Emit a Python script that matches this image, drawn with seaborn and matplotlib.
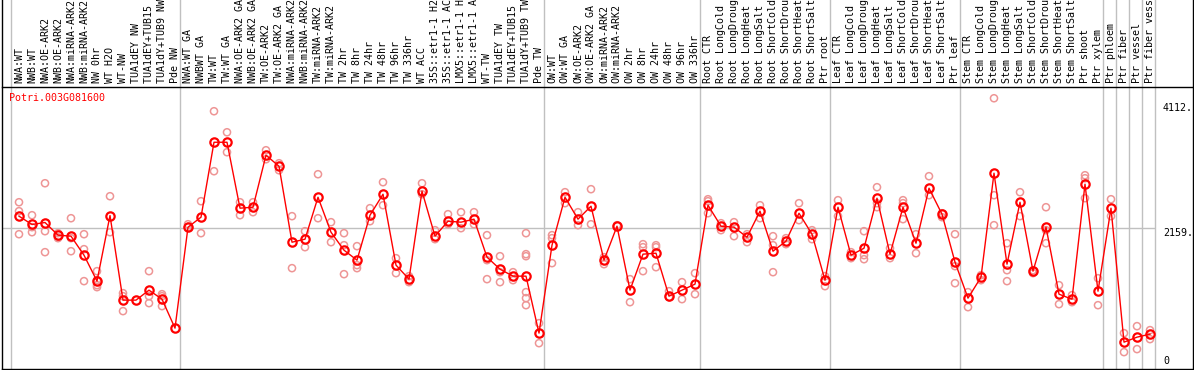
import numpy as np
import pandas as pd
import seaborn as sns
import matplotlib.pyplot as plt
from matplotlib.lines import Line2D

gene = "Potri.003G081600"

samples = [
    "NWA:WT", "NWB:WT", "NWA:OE-ARK2", "NWB:OE-ARK2", "NWA:miRNA-ARK2", "NWB:miRNA-ARK2",
    "NW 0hr", "WT H2O", "WT-NW", "TUA1dEY NW", "TUA1dEY+TUB15 NW", "TUA1dY+TUB9 NW", "Pde NW",
    "NWA:WT GA", "NWBWT GA", "TW:WT", "TW:WT GA", "NWA:OE-ARK2 GA", "NWB:OE-ARK2 GA",
    "TW:OE-ARK2", "TW:OE-ARK2 GA", "NWA:miRNA-ARK2 GA", "NWB:miRNA-ARK2 GA", "TW:miRNA-ARK2",
    "TW:miRNA-ARK2 GA", "TW 2hr", "TW 8hr", "TW 24hr", "TW 48hr", "TW 96hr", "TW 336hr",
    "WT ACC", "35S::etr1-1 H2O", "35S::etr1-1 ACC", "LMX5::etr1-1 H2O", "LMX5::etr1-1 ACC",
    "WT-TW", "TUA1dEY TW", "TUA1dEY+TUB15 TW", "TUA1dY+TUB9 TW", "Pde TW",
    "OW:WT", "OW:WT GA", "OW:OE-ARK2", "OW:OE-ARK2 GA", "OW:miRNA-ARK2", "OW:miRNA-ARK2 GA",
    "OW 2hr", "OW 8hr", "OW 24hr", "OW 48hr", "OW 96hr", "OW 336hr",
    "Root CTR", "Root LongCold", "Root LongDrought", "Root LongHeat", "Root LongSalt",
    "Root ShortCold", "Root ShortDrought", "Root ShortHeat", "Root ShortSalt", "Ptr root",
    "Leaf CTR", "Leaf LongCold", "Leaf LongDrought", "Leaf LongHeat", "Leaf LongSalt",
    "Leaf ShortCold", "Leaf ShortDrought", "Leaf ShortHeat", "Leaf ShortSalt", "Ptr leaf",
    "Stem CTR", "Stem LongCold", "Stem LongDrought", "Stem LongHeat", "Stem LongSalt",
    "Stem ShortCold", "Stem ShortDrought", "Stem ShortHeat", "Stem ShortSalt",
    "Ptr shoot", "Ptr xylem", "Ptr phloem", "Ptr fiber", "Ptr vessel", "Ptr fiber vessel",
]

means = [
    2345, 2215, 2246, 2048, 2032, 1735, 1329, 2355, 1032, 1032, 1188, 1047, 594,
    2173, 2329, 3501, 3501, 2470, 2485, 3298, 3126, 1938, 1985, 2641, 2094, 1813, 1657,
    2360, 2688, 1579, 1360, 2735, 2032, 2266, 2251, 2298, 1704, 1516, 1407, 1407, 516,
    1891, 2641, 2298, 2501, 1657, 2188, 1188, 1751, 1766, 1094, 1188, 1282,
    2516, 2188, 2173, 2016, 2423, 1797, 1954, 2391, 2063, 1344,
    2485, 1735, 1844, 2626, 1751, 2485, 1922, 2782, 2376, 1626,
    1063, 1391, 3017, 1594, 2563, 1485, 2173, 1125, 1047, 2845, 1172,
    2470, 375, 453, 500,
]

replicates = [
    [2563, 2423, 2063], [2360, 2173, 2094], [2860, 2110, 1782], [2079, 2016, 2001],
    [2313, 2001, 1797], [2063, 1829, 1329], [1485, 1344, 1266, 1235], [2657, 2094],
    [1141, 1094, 860], [], [1485, 1094, 985], [1125, 1094, 938], [],
    [2219, 2173], [2579, 2079], [3986, 3048], [3657, 3345], [2563, 2360], [2563, 2407],
    [3376, 3235], [3173, 3063], [2345, 1532], [2110, 1860], [3001, 2313], [2251, 1938],
    [2079, 1891, 1438], [1876, 1579, 1532], [2470, 2266], [2876, 2516], [1688, 1454],
    [1407, 1313], [2860, 2688], [2126, 1985], [2376, 2219], [2407, 2157], [2407, 2219],
    [2048, 1657, 1360], [1719, 1469, 1313], [1469, 1344],
    [2079, 1751, 1719, 1157, 1063, 953], [672, 359],
    [2048, 2001, 1610], [2720, 2548], [2407, 2204], [2767, 2219], [1704, 1594], [2204],
    [1360, 1000], [1907, 1860, 1485], [1891, 1860, 1547], [1172, 1078], [1313, 1047],
    [1454, 1125],
    [2610, 2579, 2391], [2235, 2126], [2251, 2032], [2063, 1938], [2516, 2313],
    [2032, 1891, 1469], [2001, 1907], [2548, 2282], [2126, 1985], [1407, 1250],
    [2595, 2345], [1782, 1688], [2110, 1735, 1672], [2798, 2548, 2485], [1844, 1688],
    [2595, 2548, 2298], [2063, 1766], [2970, 2673], [2391, 2329], [2063, 1563, 1297],
    [1157, 922], [1422, 1344], [4189, 2673, 2204], [1922, 1500, 1329], [2720, 2345],
    [1500, 1454], [2485, 2126, 1922], [1266, 969], [1110, 1000], [2985, 2938, 2626],
    [1375, 953],
    [2610, 2345], [516, 219], [625, 266], [563, 422],
]

# index of the last sample in each group (separator drawn after it)
group_ends = [-1, 12, 40, 52, 62, 72, 83, 84, 85, 86, 87]
max_value = 4112
mid_value = 2159

W, H = 1194, 370
fig = plt.figure(figsize=(W / 100, H / 100), dpi=100)
ax = fig.add_axes([2 / W, 1 / H, (1156 - 2) / W, 282 / H])

mono = "DejaVu Sans Mono"
fs = 7.2

pos = np.arange(len(samples))
rep_df = pd.DataFrame(
    [(i, v) for i, reps in enumerate(replicates) for v in reps], columns=["pos", "value"]
)
mean_df = pd.DataFrame({"pos": pos, "value": means})

# replicates as pale hollow circles, means joined by a red line
sns.scatterplot(data=rep_df, x="pos", y="value", ax=ax, marker="o", s=26,
                facecolor="none", edgecolor="#ee9595", linewidth=1.1, zorder=2)
sns.lineplot(data=mean_df, x="pos", y="value", ax=ax, color="red", lw=1,
             marker="o", markersize=6, markerfacecolor="none",
             markeredgecolor="red", markeredgewidth=1.6, zorder=3)

ax.set_xlim((2 - 19) / 13, (1156 - 19) / 13)
ax.set_ylim(-45, 4365)

ax.axhline(mid_value, color="#c0c0c0", lw=1, zorder=1)
ext = 1 + 87 / 282
for g in group_ends:
    ax.axvline(g + 5 / 13, ymin=0, ymax=ext, color="#c0c0c0", lw=1, clip_on=False, zorder=1)

ax.set_xticks(pos)
ax.set_xticklabels(samples, rotation=90, family=mono, fontsize=fs)
ax.xaxis.tick_top()
ax.tick_params(axis="x", length=0, pad=2.9)
ax.set_yticks([])
ax.set_xlabel("")
ax.set_ylabel("")
for s in ax.spines.values():
    s.set_visible(False)

ax.text(7 / 1154, 1 - 6 / 282, gene, transform=ax.transAxes, color="red",
        family=mono, fontsize=fs, va="top", ha="left")

# value labels on the right
xr = (1163 - 2) / 1154
ytr = ax.get_yaxis_transform()
ax.text(xr, max_value, f"{max_value}.", color="black", family=mono, fontsize=fs,
        va="top", ha="left", clip_on=False, transform=ytr)
ax.text(xr, mid_value, f"{mid_value}.", color="black", family=mono, fontsize=fs,
        va="top", ha="left", clip_on=False, transform=ytr)
ax.text(xr, 0.012, "0", color="black", family=mono, fontsize=fs,
        va="bottom", ha="left", transform=ax.transAxes)

# frame lines in pixel coordinates
def px_line(x0, y0, x1, y1, color="black"):
    fig.add_artist(Line2D([x0 / W, x1 / W], [1 - y0 / H, 1 - y1 / H],
                          color=color, lw=1, transform=fig.transFigure))

px_line(2, 86.5, W, 86.5)
px_line(2, 369, W, 369)
px_line(2, 0, 2, 369)
px_line(1193, 0, 1193, 369)

fig.savefig("out.png", dpi=100)
